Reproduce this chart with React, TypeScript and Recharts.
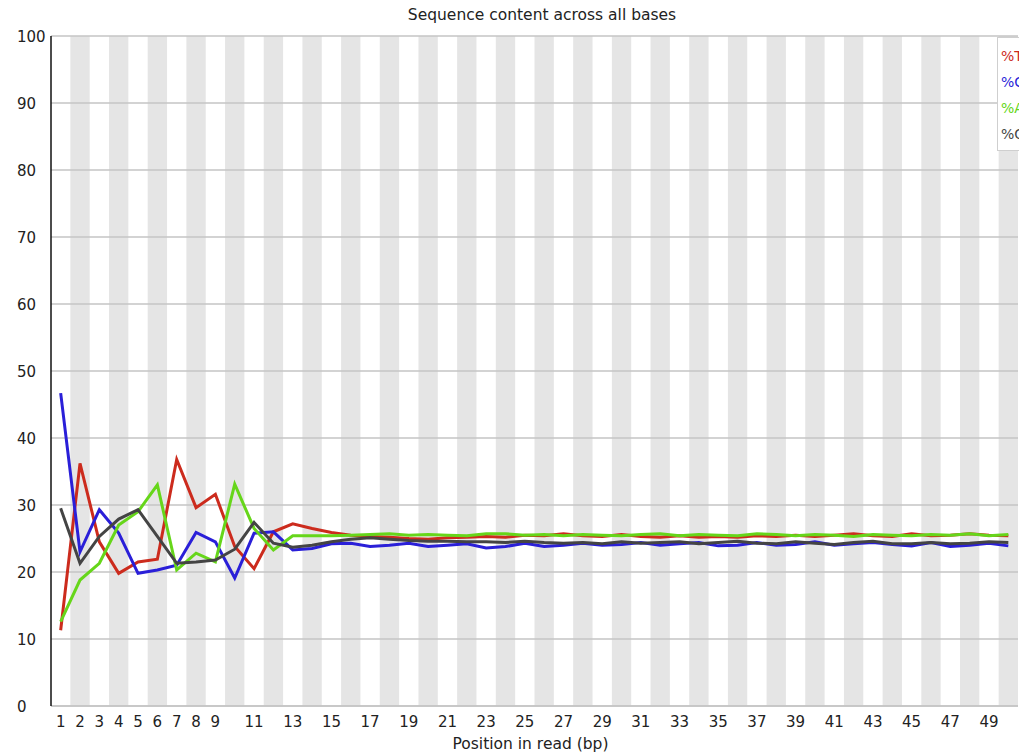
import {
  LineChart,
  Line,
  XAxis,
  YAxis,
  ReferenceArea,
  ReferenceLine,
} from "recharts";

const positions = [
  1, 2, 3, 4, 5, 6, 7, 8, 9, 10, 11, 12, 13, 14, 15, 16, 17, 18, 19, 20, 21, 22, 23, 24, 25,
  26, 27, 28, 29, 30, 31, 32, 33, 34, 35, 36, 37, 38, 39, 40, 41, 42, 43, 44, 45, 46, 47, 48, 49, 50,
];

// %T
const tValues = [
  11.3, 36.2, 24.5, 19.8, 21.5, 21.9, 36.8, 29.6, 31.6, 23.8, 20.5, 26.0, 27.2, 26.5,
  25.9, 25.5, 25.3, 25.2, 25.0, 24.9, 25.1, 25.2, 25.3, 25.2, 25.5, 25.4, 25.7, 25.4,
  25.3, 25.6, 25.3, 25.2, 25.4, 25.2, 25.3, 25.2, 25.4, 25.3, 25.5, 25.3, 25.5, 25.7,
  25.4, 25.3, 25.7, 25.4, 25.5, 25.7, 25.5, 25.4,
];

// %C
const cValues = [
  46.7, 23.0, 29.3, 25.8, 19.8, 20.3, 21.0, 25.9, 24.5, 19.1, 25.8, 26.0, 23.3, 23.5,
  24.2, 24.3, 23.8, 24.0, 24.3, 23.8, 24.0, 24.2, 23.6, 23.8, 24.3, 23.8, 24.0, 24.3,
  24.0, 24.1, 24.4, 24.0, 24.2, 24.4, 23.9, 24.0, 24.4, 24.0, 24.1, 24.5, 24.0, 24.2,
  24.4, 24.1, 23.9, 24.4, 23.8, 24.0, 24.3, 23.9,
];

// %A
const aValues = [
  12.6, 18.8, 21.3, 27.0, 29.0, 33.0, 20.3, 22.8, 21.5, 33.1, 26.5, 23.3, 25.4, 25.4,
  25.4, 25.5, 25.6, 25.7, 25.5, 25.6, 25.5, 25.4, 25.7, 25.7, 25.5, 25.6, 25.4, 25.6,
  25.5, 25.4, 25.6, 25.7, 25.4, 25.6, 25.5, 25.4, 25.7, 25.6, 25.4, 25.6, 25.5, 25.3,
  25.6, 25.5, 25.4, 25.6, 25.5, 25.7, 25.4, 25.6,
];

// %G
const gValues = [
  29.5, 21.3, 25.3, 27.9, 29.3, 25.3, 21.3, 21.5, 21.8, 23.4, 27.4, 24.3, 23.7, 24.0,
  24.5, 24.9, 25.1, 24.9, 24.7, 24.6, 24.6, 24.5, 24.5, 24.4, 24.6, 24.4, 24.3, 24.4,
  24.2, 24.5, 24.3, 24.4, 24.5, 24.2, 24.4, 24.6, 24.3, 24.2, 24.5, 24.3, 24.1, 24.4,
  24.6, 24.2, 24.2, 24.4, 24.2, 24.3, 24.5, 24.4,
];

const xTicks = [1, 2, 3, 4, 5, 6, 7, 8, 9, 11, 13, 15, 17, 19, 21, 23, 25, 27, 29, 31, 33, 35, 37, 39, 41, 43, 45, 47, 49];
const yTicks = [0, 10, 20, 30, 40, 50, 60, 70, 80, 90, 100];
const bandPositions = positions.filter((p) => p % 2 === 0);

const series = [
  { key: "t", name: "%T", color: "#cc2b1d" },
  { key: "c", name: "%C", color: "#2a1fd8" },
  { key: "a", name: "%A", color: "#66d61a" },
  { key: "g", name: "%G", color: "#444444" },
];

const data = positions.map((pos, i) => ({
  pos,
  t: tValues[i],
  c: cValues[i],
  a: aValues[i],
  g: gValues[i],
}));

const FONT = "'DejaVu Sans', sans-serif";

function YTick({ y, payload }: any) {
  return (
    <text x={17} y={y} dy={6} textAnchor="start" fontSize={15} fill="#222" fontFamily={FONT}>
      {payload.value}
    </text>
  );
}

export default function App() {
  return (
    <div
      style={{
        position: "absolute",
        left: 0,
        top: 0,
        width: 1019,
        height: 753,
        overflow: "hidden",
        background: "#fff",
      }}
    >
      <div
        style={{
          position: "absolute",
          top: 6,
          left: 0,
          width: 1084,
          textAlign: "center",
          fontFamily: FONT,
          fontSize: 15.5,
          color: "#222",
        }}
      >
        Sequence content across all bases
      </div>
      <LineChart
        width={1100}
        height={753}
        data={data}
        margin={{ top: 36, right: 82, bottom: 0, left: 0 }}
      >
        {bandPositions.map((p) => (
          <ReferenceArea
            key={p}
            x1={p - 0.5}
            x2={p + 0.5}
            y1={0}
            y2={100}
            fill="#e5e5e5"
            fillOpacity={1}
            stroke="none"
            ifOverflow="hidden"
          />
        ))}
        {yTicks.map((v) => (
          <ReferenceLine key={v} y={v} stroke="#c4c4c4" strokeWidth={1.5} />
        ))}
        <XAxis
          type="number"
          dataKey="pos"
          domain={[0.5, 50.5]}
          ticks={xTicks}
          interval={0}
          height={47}
          tickLine={false}
          tickMargin={4}
          axisLine={{ stroke: "#c4c4c4", strokeWidth: 1.5 }}
          tick={{ fontSize: 15, fill: "#222", fontFamily: FONT }}
          label={{
            value: "Position in read (bp)",
            position: "insideBottom",
            offset: 4,
            dx: -4,
            fontSize: 15.5,
            fill: "#222",
            fontFamily: FONT,
          }}
        />
        <YAxis
          type="number"
          domain={[0, 100]}
          ticks={yTicks}
          width={51}
          tickLine={false}
          axisLine={{ stroke: "#111", strokeWidth: 1.5 }}
          tick={<YTick />}
        />
        {series.map((s) => (
          <Line
            key={s.key}
            type="linear"
            dataKey={s.key}
            name={s.name}
            stroke={s.color}
            strokeWidth={3}
            dot={false}
            isAnimationActive={false}
          />
        ))}
      </LineChart>
      <div
        style={{
          position: "absolute",
          left: 997,
          top: 37,
          width: 50,
          border: "1px solid #cfcfcf",
          background: "#fff",
          padding: "5px 4px 3px 3px",
          fontFamily: FONT,
          fontSize: 14,
          lineHeight: "26px",
        }}
      >
        {series.map((s) => (
          <div key={s.key} style={{ color: s.color }}>
            {s.name}
          </div>
        ))}
      </div>
    </div>
  );
}
